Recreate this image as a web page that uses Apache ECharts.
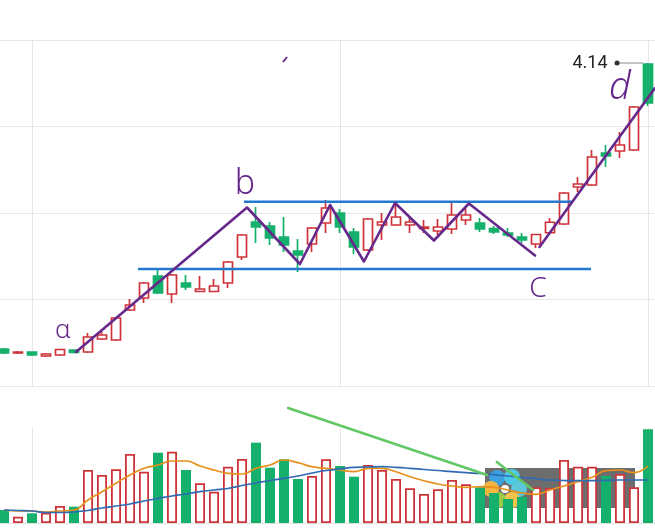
<!DOCTYPE html>
<html><head><meta charset="utf-8">
<script src="https://cdn.jsdelivr.net/npm/echarts@6/dist/echarts.min.js"></script>
<style>html,body{margin:0;padding:0;background:#fff}#c{width:655px;height:528px}</style>
</head><body><div id="c"></div>
<script>
// ---- data ----
const categories = ['1','2','3','4','5','6','7','8','9','10','11','12','13','14','15','16','17','18','19','20','21','22','23','24','25','26','27','28','29','30','31','32','33','34','35','36','37','38','39','40','41','42','43','44','45','46','47'];
const opens  = [2.996,2.980,2.984,2.968,2.972,2.992,2.984,3.036,3.032,3.152,3.200,3.288,3.216,3.260,3.226,3.226,3.260,3.364,3.504,3.488,3.444,3.388,3.416,3.500,3.540,3.464,3.392,3.492,3.492,3.492,3.478,3.468,3.476,3.512,3.500,3.478,3.460,3.444,3.416,3.461,3.496,3.644,3.652,3.780,3.788,3.792,4.136];
const closes = [2.980,2.984,2.972,2.976,2.994,2.982,3.044,3.052,3.120,3.172,3.260,3.220,3.292,3.244,3.236,3.248,3.344,3.452,3.484,3.440,3.412,3.372,3.480,3.560,3.484,3.404,3.516,3.504,3.524,3.504,3.484,3.484,3.532,3.532,3.476,3.464,3.452,3.432,3.454,3.503,3.620,3.656,3.764,3.768,3.812,3.964,3.980];
const lows   = [2.976,2.976,2.968,2.964,2.968,2.980,2.980,3.032,3.028,3.148,3.180,3.216,3.180,3.232,3.224,3.224,3.240,3.352,3.420,3.412,3.384,3.304,3.384,3.460,3.460,3.376,3.388,3.432,3.488,3.460,3.460,3.452,3.456,3.492,3.464,3.456,3.444,3.420,3.400,3.456,3.492,3.624,3.648,3.724,3.760,3.788,3.968];
const highs  = [3.000,2.988,2.986,2.980,2.996,2.994,3.060,3.068,3.124,3.196,3.264,3.312,3.296,3.292,3.288,3.276,3.348,3.456,3.564,3.504,3.524,3.436,3.484,3.592,3.556,3.480,3.520,3.540,3.572,3.524,3.512,3.516,3.580,3.560,3.520,3.488,3.480,3.460,3.456,3.520,3.624,3.684,3.792,3.812,3.864,3.968,4.140];
const volumes = [13000,6300,9700,10300,17000,16300,53000,48000,53700,69000,51300,70300,71300,53000,39700,31300,56300,64000,80300,55300,63700,44000,47000,63700,57000,46300,58000,53000,44000,34700,29000,33700,43000,38700,35700,30000,24000,26000,35700,35000,63000,56300,56300,47000,49000,35700,93700];
const volMA5  = [13000,12000,12000,11000,12000,13000,23000,31300,39700,48000,54700,58000,62000,62000,57000,53000,49700,49000,54700,58000,63000,60300,56300,54700,53000,51300,54700,54700,51300,46300,42300,39000,37000,35700,36300,35700,33000,30000,28700,33000,37000,41300,45700,52300,53000,50300,57000];
const volMA20 = [13000,12500,12000,10500,10500,11000,12500,15000,17000,19000,22000,24500,27000,29000,31300,33000,34500,37500,40000,42500,44700,47000,50000,52500,54000,55700,56000,56300,55700,54700,53500,52500,51300,50300,49500,48300,47000,45500,44300,43000,42500,42300,42300,42700,43000,43000,43000];
// hand-drawn annotations, in [candle index, price] / [candle index, volume]
const zigzagABC = [[5.14,2.984],[17.36,3.562],[21.14,3.336],[23.29,3.572],[25.71,3.346],[27.93,3.580],[30.71,3.430],[33.21,3.578],[37.93,3.370]];
const lineCD = [[38.25,3.404],[46.5,4.040]];
const resistance = [[17.14,3.585],[40.64,3.585]];
const support = [[9.57,3.316],[41.93,3.316]];
const volTrend = [[20.29,115000],[34.5,48000]];
const volTick = [[35.2,61000],[37.8,33000]];

// ---- build ----
const RED = '#cf333a', GREEN = '#14b06c', PURPLE = '#67288c', BLUE = '#2379cf';
const candleData = opens.map((o, i) => [o, closes[i], lows[i], highs[i]]);
const volData = volumes.map((v, i) => ({
  value: v,
  itemStyle: closes[i] >= opens[i]
    ? { color: '#fff', borderColor: RED, borderWidth: 1.8 }
    : { color: GREEN, borderColor: GREEN, borderWidth: 0 }
}));
const maxHigh = Math.max(...highs);
const maxIdx = highs.indexOf(maxHigh);
const maxLabelLine = [[maxIdx - 2.21, maxHigh], [maxIdx - 0.36, maxHigh]];

const gridLine = { color: '#e6e6e6', width: 1, type: 'solid' };
const hiddenCat = { axisLine: { show: false }, axisTick: { show: false }, axisLabel: { show: false }, splitLine: { show: false } };

const chart = echarts.init(document.getElementById('c'), null, { renderer: 'canvas' });
chart.setOption({
  animation: false,
  backgroundColor: '#fff',
  grid: [
    { left: -3, right: 0, top: 40, height: 346, outerBoundsMode: 'none' },
    { left: -3, right: 0, top: 428, height: 95, outerBoundsMode: 'none' }
  ],
  xAxis: [
    Object.assign({ type: 'category', gridIndex: 0, data: categories, boundaryGap: true }, hiddenCat),
    { type: 'value', gridIndex: 0, min: -0.5, max: 46.5, show: false },
    Object.assign({ type: 'category', gridIndex: 1, data: categories, boundaryGap: true, position: 'top' }, hiddenCat,
      { axisLine: { show: true, lineStyle: { color: '#e2e2e2', width: 1 } } }),
    { type: 'value', gridIndex: 1, min: -0.5, max: 46.5, show: false }
  ],
  yAxis: [
    { type: 'value', gridIndex: 0, min: 2.848, max: 4.232, show: false },
    { type: 'value', gridIndex: 0, min: 0, max: 4, interval: 1, axisLine: { show: false }, axisTick: { show: false }, axisLabel: { show: false }, splitLine: { show: true, lineStyle: gridLine } },
    { type: 'value', gridIndex: 1, min: 0, max: 95000, show: false }
  ],
  series: [
    { type: 'line', xAxisIndex: 0, yAxisIndex: 1, data: [], z: 1, silent: true,
      markLine: { z: 0, silent: true, symbol: 'none', label: { show: false }, lineStyle: gridLine,
        data: [{ xAxis: 2 }, { xAxis: 24 }, { xAxis: 46 }] } },
    { type: 'line', xAxisIndex: 2, yAxisIndex: 2, data: [], z: 1, silent: true,
      markLine: { z: 0, silent: true, symbol: 'none', label: { show: false }, lineStyle: gridLine,
        data: [{ xAxis: 2 }, { xAxis: 24 }, { xAxis: 46 }] } },
    { type: 'candlestick', xAxisIndex: 0, yAxisIndex: 0, data: candleData, barWidth: 10, z: 3,
      itemStyle: { color: '#fff', color0: GREEN, borderColor: RED, borderColor0: GREEN, borderWidth: 1.7 } },
    { type: 'bar', xAxisIndex: 2, yAxisIndex: 2, data: volData, barWidth: 10, z: 3 },
    { type: 'line', xAxisIndex: 2, yAxisIndex: 2, data: volMA5, smooth: true, showSymbol: false, z: 4,
      lineStyle: { color: '#e8901c', width: 1.7 } },
    { type: 'line', xAxisIndex: 2, yAxisIndex: 2, data: volMA20, smooth: true, showSymbol: false, z: 4,
      lineStyle: { color: '#2f6bb3', width: 1.7 } },
    // annotations
    { type: 'line', xAxisIndex: 1, yAxisIndex: 0, data: support, showSymbol: false, z: 5, clip: false, lineStyle: { color: BLUE, width: 2.4 } },
    { type: 'line', xAxisIndex: 1, yAxisIndex: 0, data: resistance, showSymbol: false, z: 5, clip: false, lineStyle: { color: BLUE, width: 2.4 } },
    { type: 'line', xAxisIndex: 1, yAxisIndex: 0, data: zigzagABC, showSymbol: false, z: 6, clip: false, lineStyle: { color: PURPLE, width: 2.6, join: 'round', cap: 'round' } },
    { type: 'line', xAxisIndex: 1, yAxisIndex: 0, data: lineCD, showSymbol: false, z: 6, clip: false, lineStyle: { color: PURPLE, width: 2.6, cap: 'round' } },
    { type: 'line', xAxisIndex: 3, yAxisIndex: 2, data: volTrend, showSymbol: false, z: 6, clip: false, lineStyle: { color: '#62c765', width: 2.6, cap: 'round' } },
    { type: 'line', xAxisIndex: 3, yAxisIndex: 2, data: volTick, showSymbol: false, z: 6, clip: false, lineStyle: { color: '#62c765', width: 2.6, cap: 'round' } },
    // max price marker
    { type: 'line', xAxisIndex: 1, yAxisIndex: 0, z: 7, clip: false,
      data: maxLabelLine.map((p, k) => k === 0
        ? { value: p, symbol: 'circle', symbolSize: 5, itemStyle: { color: '#333' },
            label: { show: true, position: 'left', distance: 7, formatter: maxHigh.toFixed(2), color: '#222', fontSize: 18, fontFamily: 'Roboto' } }
        : { value: p, symbol: 'none' }),
      showSymbol: true, lineStyle: { color: '#8a8a8a', width: 1 } }
  ],
  graphic: [
    { type: 'text', x: 63, y: 331, z: 100, style: { text: 'α', fill: PURPLE, font: '300 26px "Noto Sans"', textAlign: 'center', textVerticalAlign: 'middle' } },
    { type: 'text', x: 245, y: 184, z: 100, style: { text: 'b', fill: PURPLE, font: '300 34px "Noto Sans"', textAlign: 'center', textVerticalAlign: 'middle' } },
    { type: 'text', x: 538, y: 289, z: 100, style: { text: 'C', fill: PURPLE, font: '300 28px "Noto Sans"', textAlign: 'center', textVerticalAlign: 'middle' } },
    { type: 'text', x: 620, y: 88, z: 100, style: { text: 'd', fill: PURPLE, font: 'italic 300 38px "Noto Sans"', textAlign: 'center', textVerticalAlign: 'middle' } },
    { type: 'line', z: 100, shape: { x1: 283, y1: 62, x2: 287, y2: 57 }, style: { stroke: PURPLE, lineWidth: 2 } },
    { type: 'group', z: 90, children: [
      { type: 'rect', shape: { x: 485, y: 468, width: 150, height: 40 }, style: { fill: 'rgba(40,40,40,0.68)' } },
      { type: 'circle', shape: { cx: 497, cy: 478, r: 8 }, style: { fill: '#3aa0e0' } },
      { type: 'circle', shape: { cx: 512, cy: 477, r: 8 }, style: { fill: '#4cc9e6' } },
      { type: 'circle', shape: { cx: 519, cy: 489, r: 8 }, style: { fill: '#5cc6da' } },
      { type: 'circle', shape: { cx: 512, cy: 500, r: 8 }, style: { fill: '#f4c24a' } },
      { type: 'circle', shape: { cx: 498, cy: 500, r: 8 }, style: { fill: '#9ccb48' } },
      { type: 'circle', shape: { cx: 491, cy: 489, r: 8 }, style: { fill: '#f3b640' } },
      { type: 'circle', shape: { cx: 505, cy: 489, r: 4 }, style: { fill: '#ffffff' } }
    ] }
  ]
});
</script></body></html>
